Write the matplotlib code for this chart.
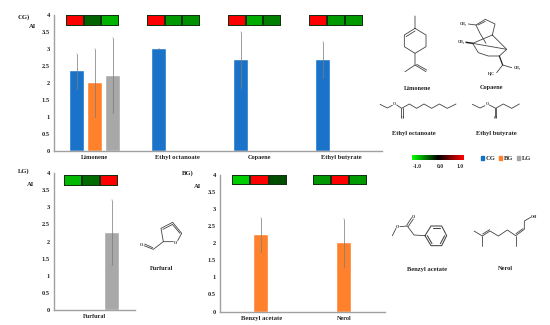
### Aroma compound bars (CG, LG, BG) with heat strips and structures

import matplotlib
matplotlib.use("Agg")
import matplotlib.pyplot as plt
from matplotlib.colors import LinearSegmentedColormap
from matplotlib.patches import Patch
import numpy as np

W, H = 550, 325

plt.rcParams["font.family"] = ["Liberation Serif", "DejaVu Serif"]
plt.rcParams["font.weight"] = "bold"

# DATA
cg_names = ["Limonene", "Ethyl octanoate", "Copaene", "Ethyl butyrate"]
cg_blue = [2.33, 3.0, 2.67, 2.67]
cg_blue_err = [0.52, 0.0, 0.83, 0.53]
cg_orange = [2.0, np.nan, np.nan, np.nan]
cg_orange_err = [1.0, np.nan, np.nan, np.nan]
cg_gray = [2.2, np.nan, np.nan, np.nan]
cg_gray_err = [1.1, np.nan, np.nan, np.nan]

lg_names = ["Furfural"]
lg_gray = [2.25]
lg_gray_err = [0.95]

bg_names = ["Benzyl acetate", "Nerol"]
bg_orange = [2.25, 2.0]
bg_orange_err = [0.5, 0.7]

ticks = [0, 0.5, 1, 1.5, 2, 2.5, 3, 3.5, 4]
tick_labels = ["0", "0.5", "1", "1.5", "2", "2.5", "3", "3.5", "4"]

# heat strip values, -1 green, 0 black, 1 red
heat_cg = [[1.0, -0.39, -0.70], [1.0, -0.59, -0.57], [1.0, -0.67, -0.50], [1.0, -0.60, -0.60]]
heat_lg = [[-0.72, -0.42, 1.0]]
heat_bg = [[-0.80, 1.0, -0.30], [-0.59, 1.0, -0.60]]

BLUE = "#1570c8"
ORANGE = "#ff7f27"
GRAY = "#a6a6a6"
TXT = "#222222"

heat_cmap = LinearSegmentedColormap.from_list("gkr", ["#00ff00", "#000000", "#ff0000"])

fig = plt.figure(figsize=(W / 100, H / 100), dpi=100)


def px_axes(left, top, right, bottom, **kw):
    return fig.add_axes([left / W, 1 - bottom / H, (right - left) / W, (bottom - top) / H], **kw)


def bar_panel(left, top, right, bottom, names):
    ax = px_axes(left, top, right, bottom)
    ax.set_xlim(0, len(names))
    ax.set_ylim(0, 4)
    ax.patch.set_alpha(0)
    ax.set_yticks(ticks)
    ax.set_yticklabels(tick_labels, fontsize=4.6, color=TXT)
    ax.set_xticks(np.arange(len(names)) + 0.5)
    ax.set_xticklabels(names, fontsize=4.6, color=TXT)
    ax.tick_params(length=0, pad=3)
    for s in ["top", "right"]:
        ax.spines[s].set_visible(False)
    for s in ["left", "bottom"]:
        ax.spines[s].set_color("#a0a0a0")
        ax.spines[s].set_linewidth(1.0)
    return ax


def bars(ax, x, vals, errs, color, width=0.17):
    ax.bar(x, vals, width=width, color=color, edgecolor="white", linewidth=0.3, alpha=0.98)
    ax.errorbar(x, vals, yerr=errs, fmt="none", ecolor="#7c7c7c", elinewidth=0.7,
                capsize=0.6, capthick=0.3, alpha=0.75)


def heat_strip(left, top, right, bottom, values):
    ax = px_axes(left, top, right, bottom)
    ax.pcolormesh([values], cmap=heat_cmap, vmin=-1, vmax=1, edgecolors="#123012", linewidth=0.3)
    ax.set_axis_off()


# CG panel
ax1 = bar_panel(54, 14.7, 382, 150.7, cg_names)
x1 = np.arange(4) + 0.5
bars(ax1, x1 - 0.22, cg_blue, cg_blue_err, BLUE)
bars(ax1, x1, cg_orange, cg_orange_err, ORANGE)
bars(ax1, x1 + 0.22, cg_gray, cg_gray_err, GRAY)
ax1.get_xticklabels()[1].set_fontsize(4.8)
ax1.get_xticklabels()[3].set_fontsize(4.7)

# LG panel
ax2 = bar_panel(54, 173, 135, 310, lg_names)
bars(ax2, np.arange(1) + 0.5 + 0.22, lg_gray, lg_gray_err, GRAY)
ax2.get_xticklabels()[0].set_fontsize(4.5)

# BG panel
ax3 = bar_panel(220, 175, 385, 311.5, bg_names)
bars(ax3, np.arange(2) + 0.5, bg_orange, bg_orange_err, ORANGE)
ax3.get_xticklabels()[0].set_fontsize(4.8)
ax3.get_xticklabels()[1].set_fontsize(4.4)

# heat strips
for (l, r), vals in zip([(66, 119), (147, 200), (228, 281), (309, 363)], heat_cg):
    heat_strip(l, 15, r, 25.7, vals)
heat_strip(64, 175, 118, 185.5, heat_lg[0])
heat_strip(232, 174.5, 287, 185, heat_bg[0])
heat_strip(313, 174.5, 367, 185, heat_bg[1])

# colour scale
cax = px_axes(412, 155, 463, 160)
cax.imshow(np.linspace(-1, 1, 100)[None, :], aspect="auto", cmap=heat_cmap, vmin=-1, vmax=1)
cax.set_axis_off()

# legend
fig.legend(handles=[Patch(color=BLUE, label="CG"), Patch(color=ORANGE, label="BG"), Patch(color=GRAY, label="LG")],
           ncol=3, frameon=False, fontsize=4.7, handlelength=0.5, handleheight=0.5, handletextpad=0.25,
           columnspacing=0.5, loc="center", bbox_to_anchor=(506 / W, 1 - 158.5 / H), labelcolor=TXT,
           borderpad=0)

# overlay in pixel coordinates for labels and structures
ov = fig.add_axes([0, 0, 1, 1])
ov.set_xlim(0, W)
ov.set_ylim(H, 0)
ov.set_axis_off()
ov.patch.set_alpha(0)


def label(x, y, s, size=4.8):
    ov.text(x, y, s, fontsize=size, ha="center", va="center", color=TXT)


def chain(x0, y0, pts, lw=0.6, color="#444444"):
    pts = np.array(pts, dtype=float) / 3
    ov.plot(pts[:, 0] + x0, pts[:, 1] + y0, color=color, lw=lw, solid_capstyle="round")


for x, y, s in [(24, 17, "CG)"), (32.5, 27, "AI"), (24, 171, "LG)"), (31, 185, "AI"),
                (188, 173, "BG)"), (198, 186, "AI")]:
    label(x, y, s)

for x, y, s, size in [(418, 88, "Limonene", 4.6), (492, 87, "Copaene", 4.6),
                      (414, 133, "Ethyl octanoate", 4.7), (496, 133, "Ethyl butyrate", 4.7),
                      (162, 268.5, "Furfural", 4.6), (427, 269, "Benzyl acetate", 4.7),
                      (505, 268, "Nerol", 4.6)]:
    label(x, y, s, size)

for x, s in [(417, "-1.0"), (440, "0.0"), (460, "1.0")]:
    label(x, 166, s, 4.0)

# Limonene
chain(400, 0, [(45, 48), (45, 85), (78, 105), (78, 140), (45, 160), (13, 140), (13, 105), (45, 85)])
chain(400, 0, [(18, 110), (45, 93)])
chain(400, 0, [(45, 160), (45, 195), (15, 215)])
chain(400, 0, [(45, 195), (78, 215)])
chain(400, 0, [(50, 193), (80, 210)])

# Copaene
chain(400, 0, [(205, 72), (228, 75), (256, 58), (285, 72), (277, 105), (320, 148), (298, 168),
               (265, 168), (235, 158), (218, 130), (277, 105)])
chain(400, 0, [(234, 75), (256, 64)])
chain(400, 0, [(228, 75), (240, 100), (258, 130)])
chain(400, 0, [(218, 130), (320, 148)])
chain(400, 0, [(198, 127), (218, 130)], lw=1.1, color="#222222")
chain(400, 0, [(298, 168), (308, 195)], lw=0.9, color="#222222")
chain(400, 0, [(335, 203), (308, 195), (290, 218)])
label(463, 23.5, "CH₃", 2.8)
label(461, 42.5, "CH₃", 2.8)
label(517, 67.5, "CH₃", 2.8)
label(491, 74, "H₃C", 2.8)

# Ethyl octanoate
chain(200, 0, [(540, 313), (562, 324), (577, 316)])
chain(200, 0, [(590, 315), (605, 325), (628, 312), (650, 325), (672, 312), (695, 325), (718, 312),
               (742, 325), (768, 312)])
chain(200, 0, [(604, 325), (604, 350)])
chain(200, 0, [(608, 325), (608, 350)])
label(394.5, 104, "O", 2.8)
label(402, 118, "O", 2.8)

# Ethyl butyrate
chain(200, 0, [(817, 313), (840, 324), (855, 317)])
chain(200, 0, [(868, 315), (887, 325), (910, 312), (935, 325), (958, 312)])
chain(200, 0, [(885, 325), (885, 350)])
chain(200, 0, [(889, 325), (889, 350)])
label(487.5, 104, "O", 2.8)
label(495.5, 118, "O", 2.8)

# Furfural
chain(0, 160, [(520, 245), (490, 245), (483, 205), (518, 187), (545, 220), (533, 242)])
chain(0, 160, [(489, 208), (516, 194)])
chain(0, 160, [(540, 220), (517, 193)])
chain(0, 160, [(490, 245), (460, 268), (432, 257)])
chain(0, 160, [(458, 263), (434, 252)])
label(175.5, 243.5, "O", 3)
label(141, 245, "O", 3)

# Benzyl acetate
chain(370, 140, [(67, 287), (78, 265)])
chain(370, 140, [(90, 260), (112, 258), (132, 285), (165, 287)])
chain(370, 140, [(110, 256), (125, 233)])
chain(370, 140, [(115, 259), (130, 237)])
chain(370, 140, [(165, 287), (183, 258), (215, 258), (230, 287), (215, 317), (183, 317), (165, 287)], lw=0.75)
chain(370, 140, [(188, 264), (211, 264)], lw=0.75)
chain(370, 140, [(224, 287), (211, 311)], lw=0.75)
chain(370, 140, [(186, 311), (172, 287)], lw=0.75)
label(397.5, 226.5, "O", 3)
label(413.5, 217.5, "O", 3)

# Nerol
chain(370, 140, [(312, 273), (337, 288), (360, 273), (385, 288), (412, 270), (437, 287), (463, 268),
                 (463, 243), (482, 232)])
chain(370, 140, [(338, 282), (359, 269)])
chain(370, 140, [(438, 281), (459, 266)])
chain(370, 140, [(337, 288), (337, 317)])
chain(370, 140, [(437, 287), (437, 317)])
label(534, 217.5, "OH", 3)

fig.savefig("out.png", dpi=100, facecolor="white")
